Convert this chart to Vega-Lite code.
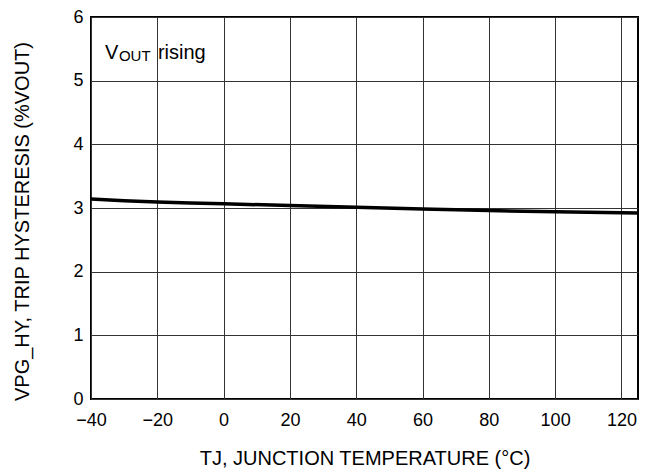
{
  "$schema": "https://vega.github.io/schema/vega-lite/v6.json",
  "width": 547,
  "height": 382,
  "autosize": {"type": "none"},
  "padding": {"left": 91, "top": 17, "right": 12, "bottom": 71},
  "background": "white",
  "config": {
    "view": {"stroke": "black", "strokeWidth": 2},
    "font": "Liberation Sans",
    "axis": {
      "domain": false,
      "ticks": false,
      "tickSize": 0,
      "grid": true,
      "gridColor": "#333333",
      "gridWidth": 1,
      "gridOpacity": 1,
      "labelFont": "Liberation Sans",
      "labelFontSize": 18,
      "labelColor": "black",
      "labelFlush": false,
      "labelOverlap": false,
      "titleFont": "Liberation Sans",
      "titleFontSize": 20,
      "titleFontWeight": "normal",
      "titleColor": "black"
    }
  },
  "layer": [
    {
      "data": {
        "values": [
          {"t": -40, "h": 3.14},
          {"t": -30, "h": 3.115},
          {"t": -20, "h": 3.095},
          {"t": -10, "h": 3.08},
          {"t": 0, "h": 3.065},
          {"t": 20, "h": 3.04},
          {"t": 40, "h": 3.01},
          {"t": 60, "h": 2.985},
          {"t": 80, "h": 2.96},
          {"t": 100, "h": 2.94},
          {"t": 125, "h": 2.92}
        ]
      },
      "mark": {"type": "line", "color": "black", "strokeWidth": 3.5, "clip": true},
      "encoding": {
        "x": {
          "field": "t",
          "type": "quantitative",
          "scale": {"domain": [-40, 125], "nice": false, "zero": false},
          "axis": {
            "values": [-40, -20, 0, 20, 40, 60, 80, 100, 120],
            "format": "d",
            "labelExpr": "replace(datum.label, '-', '\u2212')",
            "labelBaseline": "alphabetic",
            "labelPadding": 26,
            "title": "TJ, JUNCTION TEMPERATURE (°C)",
            "titleBaseline": "alphabetic",
            "titleY": 65
          }
        },
        "y": {
          "field": "h",
          "type": "quantitative",
          "scale": {"domain": [0, 6], "nice": false},
          "axis": {
            "values": [0, 1, 2, 3, 4, 5, 6],
            "format": "d",
            "labelPadding": 8,
            "title": "VPG_HY, TRIP HYSTERESIS (%VOUT)",
            "titleBaseline": "alphabetic",
            "titleX": -63,
            "titleY": 204
          }
        }
      }
    },
    {
      "data": {"values": [{"t": -35.8, "h": 5.34, "label": "V"}]},
      "mark": {"type": "text", "align": "left", "baseline": "alphabetic", "fontSize": 20, "color": "black"},
      "encoding": {
        "x": {"field": "t", "type": "quantitative"},
        "y": {"field": "h", "type": "quantitative"},
        "text": {"field": "label"}
      }
    },
    {
      "data": {"values": [{"t": -35.8, "h": 5.34, "label": "OUT"}]},
      "mark": {"type": "text", "align": "left", "baseline": "alphabetic", "fontSize": 15, "dx": 14, "dy": 1.5, "color": "black"},
      "encoding": {
        "x": {"field": "t", "type": "quantitative"},
        "y": {"field": "h", "type": "quantitative"},
        "text": {"field": "label"}
      }
    },
    {
      "data": {"values": [{"t": -35.8, "h": 5.34, "label": "rising"}]},
      "mark": {"type": "text", "align": "left", "baseline": "alphabetic", "fontSize": 20, "dx": 53, "color": "black"},
      "encoding": {
        "x": {"field": "t", "type": "quantitative"},
        "y": {"field": "h", "type": "quantitative"},
        "text": {"field": "label"}
      }
    }
  ]
}
